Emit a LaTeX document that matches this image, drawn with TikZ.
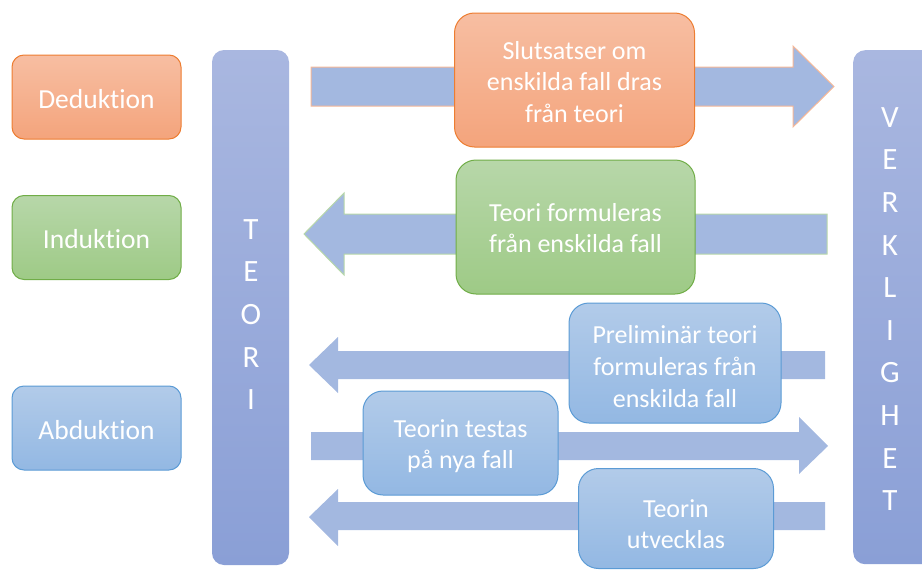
\documentclass[tikz,border=0pt]{standalone}
\usepackage{fontspec}
\setmainfont{Carlito}[Ligatures=NoCommon]
\definecolor{arrowfill}{HTML}{A3B8E0}
\definecolor{orTop}{HTML}{F7BEA2}
\definecolor{orBot}{HTML}{F4A47C}
\definecolor{orLine}{HTML}{ED7D31}
\definecolor{grTop}{HTML}{B7D7A9}
\definecolor{grBot}{HTML}{9ECA86}
\definecolor{grLine}{HTML}{70AD47}
\definecolor{blTop}{HTML}{B2CBE9}
\definecolor{blBot}{HTML}{93B8E3}
\definecolor{blLine}{HTML}{5B9BD5}
\definecolor{barTop}{HTML}{A9B7E0}
\definecolor{barBot}{HTML}{8A9FD6}
\tikzset{
  boxtext/.style={text=white, align=center, inner sep=0pt,
    font=\fontsize{26}{31.6}\selectfont},
  labeltext/.style={boxtext, font=\fontsize{27.5}{33}\selectfont},
  lettertext/.style={boxtext, font=\fontsize{31}{42.6}\selectfont},
  orangebox/.style={rounded corners=20pt, draw=orLine, line width=1pt,
    top color=orTop, bottom color=orBot},
  greenbox/.style={rounded corners=20pt, draw=grLine, line width=1pt,
    top color=grTop, bottom color=grBot},
  bluebox/.style={rounded corners=20pt, draw=blLine, line width=1pt,
    top color=blTop, bottom color=blBot},
  labelbox/.style={minimum width=169pt, minimum height=84pt, rounded corners=12pt},
  bar/.style={rounded corners=12pt, top color=barTop, bottom color=barBot},
  blockarrow/.style={fill=arrowfill, line width=1pt, line join=miter},
}
\begin{document}
\begin{tikzpicture}[x=1pt, y=-1pt]
\useasboundingbox (0,0) rectangle (922,570);
\clip (0,0) rectangle (922,570);

% left-hand labels
\node[orangebox, labelbox] (ded) at (96.5,97) {};
\node[labeltext] (ded-t) at (96.5,99) {Deduktion};
\node[greenbox, labelbox] (ind) at (96.5,237.5) {};
\node[labeltext] (ind-t) at (96.5,239.5) {Induktion};
\node[bluebox, labelbox] (abd) at (96.5,428) {};
\node[labeltext] (abd-t) at (96.5,430) {Abduktion};

% theory and reality columns
\node[bar, minimum width=77pt, minimum height=515pt] (teori) at (250.5,307.5) {};
\node[lettertext] (teori-t) at (251,314.5) {T\\E\\O\\R\\I};
\node[bar, minimum width=90pt, minimum height=514pt, anchor=north west] (verk) at (853,50) {};
\node[lettertext] (verk-t) at (890,309) {V\\E\\R\\K\\L\\I\\G\\H\\E\\T};

% deduction: theory -> reality
\draw[blockarrow, draw=orTop!90!orLine]
  (311,67) -- (793,67) -- (793,46) -- (834,86.5) -- (793,127) -- (793,106) -- (311,106) -- cycle;
% induction: reality -> theory
\draw[blockarrow, draw=grTop]
  (827,214) -- (344,214) -- (344,193) -- (304,234) -- (344,275) -- (344,254) -- (827,254) -- cycle;
% abduction arrows
\fill[arrowfill]
  (825,351) -- (338,351) -- (338,337) -- (309,365) -- (338,393) -- (338,379) -- (825,379) -- cycle;
\fill[arrowfill]
  (311,432) -- (799,432) -- (799,417) -- (828,446) -- (799,474) -- (799,460) -- (311,460) -- cycle;
\fill[arrowfill]
  (825,502) -- (338,502) -- (338,489) -- (309,517) -- (338,546) -- (338,530) -- (825,530) -- cycle;

% statement boxes on the arrows
\node[orangebox, minimum width=240pt, minimum height=134pt] (slut) at (574.5,80) {};
\node[boxtext] (slut-t) at (574.5,82) {Slutsatser om\\enskilda fall dras\\från teori};
\node[greenbox, minimum width=239pt, minimum height=134pt] (form) at (575.5,227) {};
\node[boxtext] (form-t) at (575.5,228) {Teori formuleras\\från enskilda fall};
\node[bluebox, minimum width=212pt, minimum height=120pt] (prel) at (675,363) {};
\node[boxtext] (prel-t) at (675,366.5) {Preliminär teori\\formuleras från\\enskilda fall};
\node[bluebox, minimum width=195pt, minimum height=104pt] (test) at (460.5,443) {};
\node[boxtext] (test-t) at (460.5,446) {Teorin testas\\på nya fall};
\node[bluebox, minimum width=195pt, minimum height=100pt] (utv) at (676,518.5) {};
\node[boxtext] (utv-t) at (676,524) {Teorin\\utvecklas};
\end{tikzpicture}
\end{document}
